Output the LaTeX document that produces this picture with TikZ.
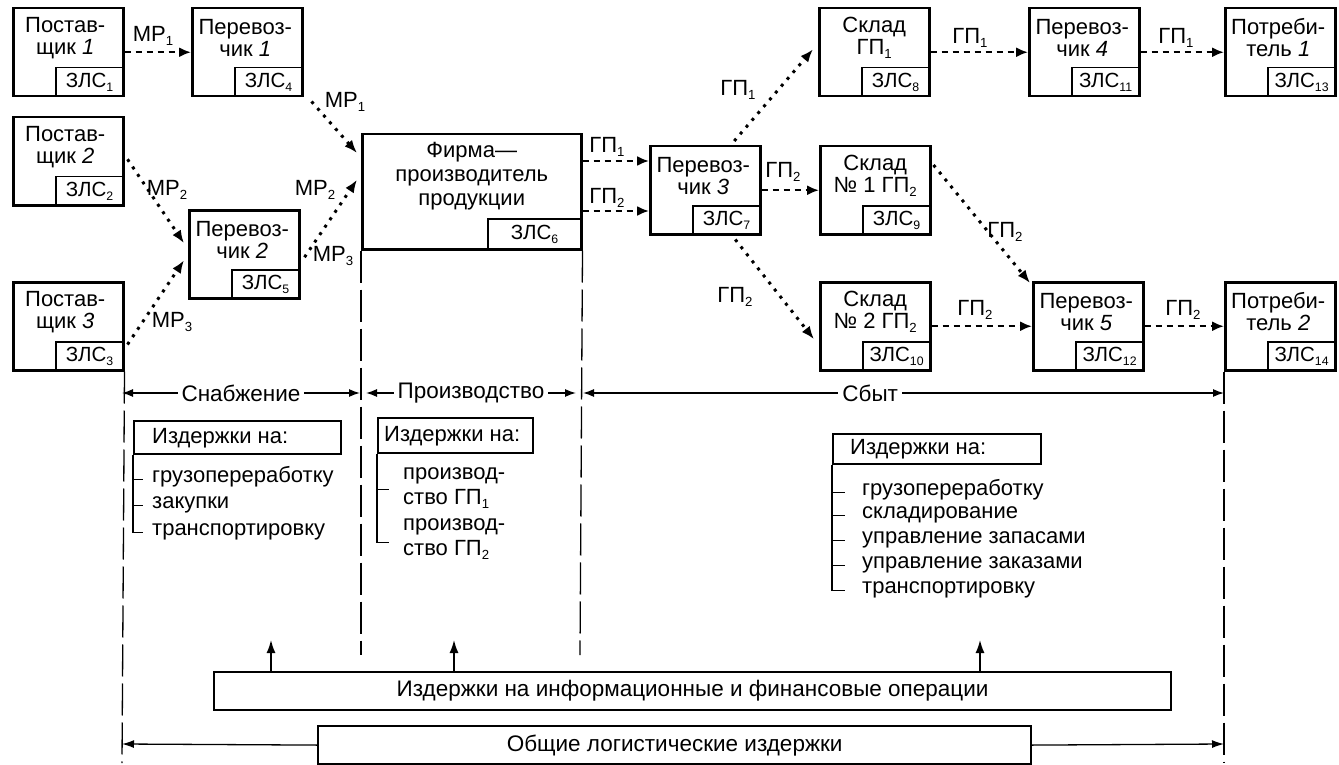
\documentclass[tikz,border=0pt]{standalone}
\usepackage{fontspec}
\setmainfont{Liberation Sans}
\usetikzlibrary{arrows.meta,calc}
\newcommand\lsub[1]{\raisebox{-0.35ex}{\scalebox{0.6}{#1}}}
\begin{document}
\begin{tikzpicture}[x=1pt,y=-1pt,
 ent/.style={draw, line width=2.5pt, rectangle, anchor=north west, inner sep=0pt, minimum width=110pt, minimum height=88pt},
 zls/.style={draw, line width=1.8pt, rectangle, anchor=south east, inner sep=0pt, minimum width=68pt, minimum height=29pt, font=\fontsize{20.5}{21}\selectfont},
 etxt/.style={align=center, inner sep=0pt, font=\fontsize{22}{22}\selectfont},
 flab/.style={inner sep=0pt, font=\fontsize{22}{23}\selectfont},
 hflow/.style={line width=2.2pt, dash pattern=on 6pt off 5pt, -{Latex[length=12pt,width=10pt]}},
 dflow/.style={line width=3pt, dash pattern=on 3pt off 6pt, -{Latex[length=13pt,width=10pt]}},
 vline/.style={line width=1.3pt, dash pattern=on 32pt off 7pt},
 phase/.style={line width=1.3pt, {Latex[length=11pt,width=8pt]}-{Latex[length=11pt,width=8pt]}},
 plab/.style={fill=white, inner xsep=4pt, inner ysep=1pt, font=\fontsize{22.5}{23}\selectfont},
 cbox/.style={draw, line width=2.2pt, rectangle, anchor=north west, inner sep=0pt},
 ctxt/.style={anchor=west, inner sep=0pt, text height=15.5pt, text depth=4.5pt, font=\fontsize{22}{23}\selectfont},
 mtxt/.style={anchor=west, inner sep=0pt, align=left, font=\fontsize{22}{25}\selectfont},
 brk/.style={line width=1.4pt},
 bigbox/.style={draw, line width=2.2pt, rectangle, anchor=north west, inner sep=0pt, font=\fontsize{22.5}{23}\selectfont},
 upar/.style={line width=1.5pt, -{Latex[length=13pt,width=9pt]}},
 botar/.style={line width=1.3pt, -{Latex[length=12pt,width=8pt]}}
]
\useasboundingbox (0,0) rectangle (1339,765);

% entities
\node[ent] (p1) at (12,7) {};
\node[zls] (z1) at (p1.south east) {ЗЛС\lsub{1}};
\node[etxt] (p1t) at ($(p1.north)+(-3,31)$) {Постав-\\щик \textit{1}};

\node[ent] (c1) at (191,7) {};
\node[zls] (z4) at (c1.south east) {ЗЛС\lsub{4}};
\node[etxt] (c1t) at ($(c1.north)+(-2,31)$) {Перевоз-\\чик \textit{1}};

\node[ent] (p2) at (12,116) {};
\node[zls] (z2) at (p2.south east) {ЗЛС\lsub{2}};
\node[etxt] (p2t) at ($(p2.north)+(-3,31)$) {Постав-\\щик \textit{2}};

\node[ent] (c2) at (188,209) {};
\node[zls] (z5) at (c2.south east) {ЗЛС\lsub{5}};
\node[etxt] (c2t) at ($(c2.north)+(-2,31)$) {Перевоз-\\чик \textit{2}};

\node[ent] (p3) at (12,281) {};
\node[zls] (z3) at (p3.south east) {ЗЛС\lsub{3}};
\node[etxt] (p3t) at ($(p3.north)+(-3,31)$) {Постав-\\щик \textit{3}};

\node[ent, minimum width=219pt, minimum height=115pt] (f) at (361,133) {};
\node[zls, minimum width=94pt, minimum height=31pt] (z6) at (f.south east) {ЗЛС\lsub{6}};
\node[etxt, font=\fontsize{22}{24}\selectfont] (ft) at ($(f.north)+(0,43)$) {Фирма—\\производитель\\продукции};

\node[ent] (c3) at (649,145) {};
\node[zls] (z7) at (c3.south east) {ЗЛС\lsub{7}};
\node[etxt] (c3t) at ($(c3.north)+(-2,31)$) {Перевоз-\\чик \textit{3}};

\node[ent] (s1) at (818,7) {};
\node[zls] (z8) at (s1.south east) {ЗЛС\lsub{8}};
\node[etxt] (s1t) at ($(s1.north)+(0,31)$) {Склад\\ГП\lsub{1}};

\node[ent] (s2) at (819,145) {};
\node[zls] (z9) at (s2.south east) {ЗЛС\lsub{9}};
\node[etxt] (s2t) at ($(s2.north)+(0,31)$) {Склад\\№ 1 ГП\lsub{2}};

\node[ent] (s3) at (819,281) {};
\node[zls] (z10) at (s3.south east) {ЗЛС\lsub{10}};
\node[etxt] (s3t) at ($(s3.north)+(0,31)$) {Склад\\№ 2 ГП\lsub{2}};

\node[ent] (c4) at (1028,7) {};
\node[zls] (z11) at (c4.south east) {ЗЛС\lsub{11}};
\node[etxt] (c4t) at ($(c4.north)+(-2,31)$) {Перевоз-\\чик \textit{4}};

\node[ent] (c5) at (1032,281) {};
\node[zls] (z12) at (c5.south east) {ЗЛС\lsub{12}};
\node[etxt] (c5t) at ($(c5.north)+(-2,31)$) {Перевоз-\\чик \textit{5}};

\node[ent] (u1) at (1224,7) {};
\node[zls] (z13) at (u1.south east) {ЗЛС\lsub{13}};
\node[etxt] (u1t) at ($(u1.north)+(-2,31)$) {Потреби-\\тель \textit{1}};

\node[ent] (u2) at (1224,281) {};
\node[zls] (z14) at (u2.south east) {ЗЛС\lsub{14}};
\node[etxt] (u2t) at ($(u2.north)+(-2,31)$) {Потреби-\\тель \textit{2}};

% flows
\draw[hflow] (p1.east) -- (c1.west);
\draw[dflow] ($(c1.south east)+(8,4)$) -- ($(f.north west)+(-4,20)$);
\draw[dflow] ($(p2.east)+(3,-2)$) -- ($(c2.west)+(-4,-11)$);
\draw[dflow] ($(p3.south east)+(3,-27)$) -- ($(c2.west)+(-4,6)$);
\draw[dflow] ($(c2.east)+(4,3)$) -- ($(f.west)+(-4,-12)$);
\draw[hflow] ($(f.north east)+(0,28)$) -- ($(c3.north west)+(0,16)$);
\draw[hflow] ($(f.north east)+(0,78)$) -- ($(c3.north west)+(0,66)$);
\draw[dflow] ($(c3.north)+(29,-4)$) -- ($(s1.west)+(-5,-3)$);
\draw[hflow] (c3.east) -- (s2.west);
\draw[dflow] ($(c3.south)+(30,4)$) -- ($(s3.west)+(-5,13)$);
\draw[dflow] ($(s2.north east)+(2,20)$) -- ($(c5.north west)+(-2,2)$);
\draw[hflow] (s1.east) -- (c4.west);
\draw[hflow] (c4.east) -- (u1.west);
\draw[hflow] (s3.east) -- (c5.west);
\draw[hflow] (c5.east) -- (u2.west);

% flow labels
\node[flab] (l1) at (153,36) {МР\lsub{1}};
\node[flab] (l2) at (345,102) {МР\lsub{1}};
\node[flab] (l3) at (167,190) {МР\lsub{2}};
\node[flab] (l4) at (172,322) {МР\lsub{3}};
\node[flab] (l5) at (315,190) {МР\lsub{2}};
\node[flab] (l6) at (333,256) {МР\lsub{3}};
\node[flab] (l7) at (607,147) {ГП\lsub{1}};
\node[flab] (l8) at (607,198) {ГП\lsub{2}};
\node[flab] (l9) at (738,90) {ГП\lsub{1}};
\node[flab] (l10) at (783,172) {ГП\lsub{2}};
\node[flab] (l11) at (735,297) {ГП\lsub{2}};
\node[flab] (l12) at (1005,232) {ГП\lsub{2}};
\node[flab] (l13) at (970,38) {ГП\lsub{1}};
\node[flab] (l14) at (1176,38) {ГП\lsub{1}};
\node[flab] (l15) at (975,310) {ГП\lsub{2}};
\node[flab] (l16) at (1183,310) {ГП\lsub{2}};

% vertical dashed lines
\coordinate (vl1) at (122,763);
\coordinate (vl2) at (361,655);
\coordinate (vl3) at (580,655);
\coordinate (vl4) at (1224,763);
\draw[vline] (p3.south east) -- (vl1);
\draw[vline] (f.south west) -- (vl2);
\draw[vline] (f.south east) -- (vl3);
\draw[vline] (u2.south west) -- (vl4);

% phases
\coordinate (phA) at (122,393);
\coordinate (phB) at (360,393);
\coordinate (phC) at (366,393);
\coordinate (phD) at (576,393);
\coordinate (phE) at (583,393);
\coordinate (phF) at (1224,393);
\draw[phase] (phA) -- node[plab] (ph1) {Снабжение} (phB);
\draw[phase] (phC) -- node[plab] (ph2) {Производство} (phD);
\draw[phase] (phE) -- node[plab, pos=0.448] (ph3) {Сбыт} (phF);

% cost lists: supply
\node[cbox, minimum width=207pt, minimum height=33pt] (cb1) at (133,420) {};
\node[ctxt] (cb1t) at ($(cb1.west)+(19,0)$) {Издержки на:};
\draw[brk] (cb1.south west) -- ++(0,77) -- ++(10,0);
\draw[brk] ($(cb1.south west)+(0,24)$) -- ++(10,0);
\draw[brk] ($(cb1.south west)+(0,50)$) -- ++(10,0);
\node[ctxt] (a1) at (152,477) {грузопереработку};
\node[ctxt] (a2) at (152,503) {закупки};
\node[ctxt] (a3) at (152,530) {транспортировку};

% cost lists: production
\node[cbox, minimum width=155pt, minimum height=35pt] (cb2) at (377,417) {};
\node[ctxt] (cb2t) at ($(cb2.west)+(7,0)$) {Издержки на:};
\draw[brk] (cb2.south west) -- ++(0,88) -- ++(12,0);
\draw[brk] ($(cb2.south west)+(0,35)$) -- ++(12,0);
\node[mtxt] (b1) at (403,488) {производ-\\ство ГП\lsub{1}};
\node[mtxt] (b2) at (403,539) {производ-\\ство ГП\lsub{2}};

% cost lists: sales
\node[cbox, minimum width=208pt, minimum height=30pt] (cb3) at (832,433) {};
\node[ctxt] (cb3t) at ($(cb3.west)+(18,0)$) {Издержки на:};
\draw[brk] (cb3.south west) -- ++(0,125) -- ++(13,0);
\draw[brk] ($(cb3.south west)+(0,27)$) -- ++(13,0);
\draw[brk] ($(cb3.south west)+(0,50)$) -- ++(13,0);
\draw[brk] ($(cb3.south west)+(0,75)$) -- ++(13,0);
\draw[brk] ($(cb3.south west)+(0,100)$) -- ++(13,0);
\node[ctxt] (d1) at (862,490) {грузопереработку};
\node[ctxt] (d2) at (862,513) {складирование};
\node[ctxt] (d3) at (862,538) {управление запасами};
\node[ctxt] (d4) at (862,563) {управление заказами};
\node[ctxt] (d5) at (862,588) {транспортировку};

% info box
\node[bigbox, minimum width=957pt, minimum height=38pt] (info) at (213,671) {Издержки на информационные и финансовые операции};
\coordinate (ua1) at (271,640);
\coordinate (ua2) at (454,640);
\coordinate (ua3) at (980,640);
\draw[upar] (info.north -| ua1) -- (ua1);
\draw[upar] (info.north -| ua2) -- (ua2);
\draw[upar] (info.north -| ua3) -- (ua3);

% total
\node[bigbox, minimum width=713pt, minimum height=38pt] (tot) at (317,725) {Общие логистические издержки};
\coordinate (tl) at (122,744);
\coordinate (tr) at (1224,744);
\draw[botar] (tot.west) -- (tl);
\draw[botar] (tot.east) -- (tr);
\end{tikzpicture}
\end{document}
